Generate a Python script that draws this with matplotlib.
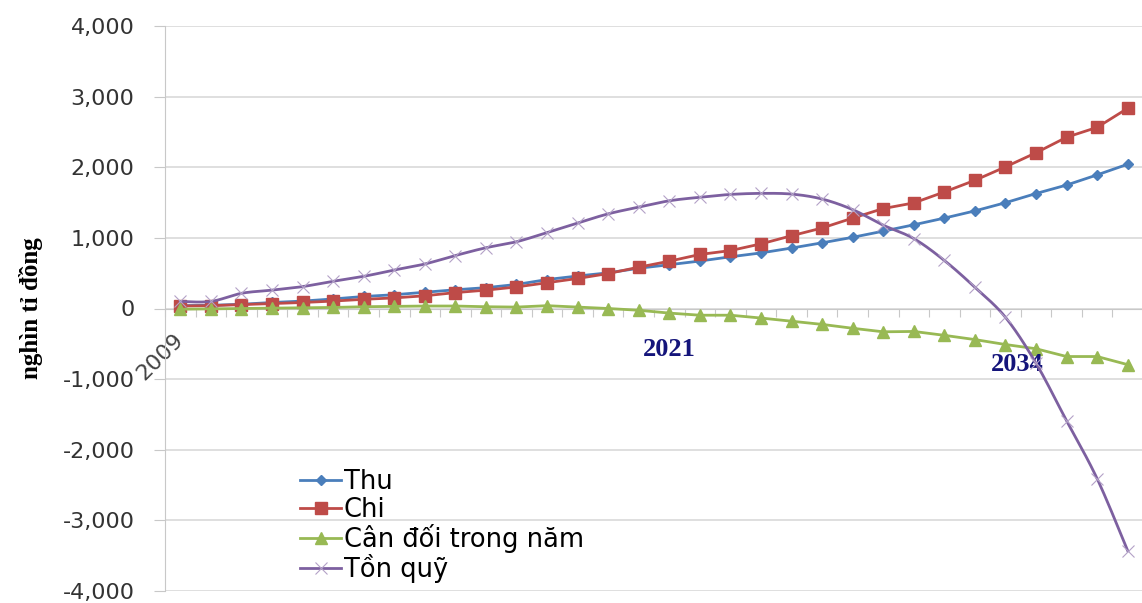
import numpy as np
import matplotlib.pyplot as plt

# Du bao quy: 2009 - 2040 (nghin ti dong)
years = list(range(2009, 2041))
thu = [40, 45, 60, 85, 105, 135, 170, 195, 230, 265, 295, 340, 410, 460, 505, 570,
       620, 672, 732, 787, 856, 930, 1008, 1095, 1185, 1280, 1382, 1498, 1628, 1748, 1892, 2043]
chi = [35, 40, 55, 70, 85, 105, 130, 150, 180, 225, 260, 305, 365, 425, 495, 585,
       670, 765, 820, 915, 1030, 1140, 1280, 1415, 1495, 1650, 1815, 2005, 2205, 2425, 2565, 2835]
can_doi = [-10, -5, 0, 5, 10, 15, 25, 30, 35, 35, 25, 20, 40, 20, 0, -25,
           -65, -95, -95, -135, -180, -225, -280, -330, -325, -380, -440, -510, -570, -680, -680, -795]
ton_quy = [100, 100, 215, 260, 310, 385, 455, 545, 630, 750, 860, 945, 1075, 1210, 1340, 1435,
           1525, 1575, 1615, 1630, 1620, 1550, 1400, 1180, 990, 680, 300, -125, -775, -1590, -2410, -3430]

series_names = ['Thu', 'Chi', 'Cân đối trong năm', 'Tồn quỹ']


def smooth(x, y, n=20):
    # cubic bezier through the points, like a spreadsheet "smoothed line"
    x = np.asarray(x, float)
    y = np.asarray(y, float)
    px = np.concatenate([[x[0]], x, [x[-1]]])
    py = np.concatenate([[y[0]], y, [y[-1]]])
    xs, ys = [], []
    t = np.linspace(0, 1, n)
    for i in range(1, len(px) - 2):
        p0 = np.array([px[i], py[i]])
        p3 = np.array([px[i + 1], py[i + 1]])
        p1 = p0 + (p3 - np.array([px[i - 1], py[i - 1]])) / 6
        p2 = p3 - (np.array([px[i + 2], py[i + 2]]) - p0) / 6
        b = ((1 - t) ** 3)[:, None] * p0 + (3 * (1 - t) ** 2 * t)[:, None] * p1 \
            + (3 * (1 - t) * t ** 2)[:, None] * p2 + (t ** 3)[:, None] * p3
        xs.extend(b[:, 0])
        ys.extend(b[:, 1])
    return xs, ys


fig = plt.figure(figsize=(11.42, 6.03), dpi=100)
ax = fig.add_axes([165 / 1142, 12 / 603, 978 / 1142, 565 / 603])

x = np.arange(len(years))
ax.plot(x, thu, color='#4A7EBB', lw=2, marker='D', ms=5, label=series_names[0], zorder=3)
ax.plot(x, chi, color='#BE4B48', lw=2, marker='s', ms=8.5, label=series_names[1], zorder=3)
ax.plot(x, can_doi, color='#98B954', lw=2, marker='^', ms=8, label=series_names[2], zorder=3)
sx, sy = smooth(x, ton_quy)
ax.plot(sx, sy, color='#7D60A0', lw=2, zorder=4)
ax.plot(x, ton_quy, ls='none', marker='x', ms=8, mew=0.8, color='#B3A2C7', zorder=4)
# legend entry for the smoothed series
ax.plot([], [], color='#7D60A0', lw=2, marker='x', ms=8, mew=0.8, mec='#B3A2C7', label=series_names[3])

ax.set_xlim(-0.5, len(years) - 0.5)
ax.set_ylim(-4000, 4000)
ax.set_yticks(np.arange(-4000, 4001, 1000))
ax.set_yticklabels([f'{v:,}' for v in range(-4000, 4001, 1000)])
ax.grid(axis='y', color='#d9d9d9', lw=1.2)
ax.set_axisbelow(True)

for s in ['top', 'right']:
    ax.spines[s].set_visible(False)
ax.spines['left'].set_color('#c8c8c8')
ax.spines['bottom'].set_position(('data', 0))
ax.spines['bottom'].set_color('#c8c8c8')

ax.tick_params(axis='y', length=8, color='#c8c8c8', pad=14, labelsize=16, labelcolor='#333333')
ax.set_xticks(np.arange(-0.5, len(years)))
ax.set_xticklabels([])
ax.tick_params(axis='x', which='major', length=6, color='#c8c8c8')
ax.set_xticks([0], [str(years[0])], minor=True)
ax.tick_params(axis='x', which='minor', length=0, pad=20, labelsize=16, labelcolor='#444444')
for lab in ax.get_xticklabels(minor=True):
    lab.set_rotation(45)
    lab.set_ha('right')
    lab.set_va('center')
    lab.set_rotation_mode('anchor')

ax.set_ylabel('nghìn tỉ đồng', family='Liberation Serif', fontweight='bold', fontsize=18)
ax.yaxis.set_label_coords(-0.125, 0.5)

ax.text(16.0, -575, '2021', family='Liberation Serif', fontweight='bold', fontsize=19,
        color='#14147a', ha='center', va='center')
ax.text(27.4, -786, '2034', family='Liberation Serif', fontweight='bold', fontsize=19,
        color='#14147a', ha='center', va='center')

ax.legend(loc='upper left', bbox_to_anchor=(290 / 1142, 1 - 459 / 603), bbox_transform=fig.transFigure,
          frameon=False, fontsize=18.5, handlelength=1.6, handletextpad=0.1, labelspacing=0.05,
          borderaxespad=0)

fig.savefig('out.png', dpi=100)
